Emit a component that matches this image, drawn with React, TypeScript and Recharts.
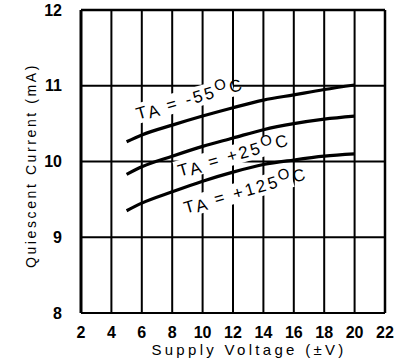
import React from 'react';
import { LineChart, Line, XAxis, YAxis, CartesianGrid, ReferenceLine, ReferenceDot, Label } from 'recharts';

const voltage = [5, 6, 8, 10, 12, 14, 16, 18, 20];
const currentMinus55 = [10.26, 10.35, 10.48, 10.6, 10.71, 10.81, 10.88, 10.95, 11.01];
const currentPlus25 = [9.83, 9.93, 10.07, 10.2, 10.31, 10.42, 10.5, 10.56, 10.6];
const currentPlus125 = [9.35, 9.45, 9.6, 9.74, 9.86, 9.96, 10.02, 10.07, 10.1];

const xTicks = [2, 4, 6, 8, 10, 12, 14, 16, 18, 20, 22];
const yTicks = [8, 9, 10, 11, 12];

const curveLabels = [
  { temp: '-55', x: 5.75, y: 10.55 },
  { temp: '+25', x: 8.5, y: 9.8 },
  { temp: '+125', x: 8.9, y: 9.31 },
];

const data = voltage.map((v, i) => ({
  v,
  m55: currentMinus55[i],
  p25: currentPlus25[i],
  p125: currentPlus125[i],
}));

const FONT = '"Liberation Sans", Arial, Helvetica, sans-serif';

const makeCurveLabel = (temp: string) => (props: any) => {
  const vb = props.viewBox || {};
  const x = (vb.x ?? 0) + (vb.width ?? 0) / 2;
  const y = (vb.y ?? 0) + (vb.height ?? 0) / 2;
  const len = (6 + temp.length) * 11.5;
  return (
    <g transform={`rotate(-16 ${x} ${y})`}>
      <rect x={x - 3} y={y - 16} width={len} height={20} fill="#fff" />
      <text
        x={x}
        y={y}
        fontFamily={FONT}
        fontSize={17}
        letterSpacing={2.4}
        fill="#000"
      >
        <tspan>T</tspan>
        <tspan dy={2}>A</tspan>
        <tspan dy={-2}>{` = ${temp}`}</tspan>
        <tspan dy={-6} fontSize={15}>O</tspan>
        <tspan dy={6}>C</tspan>
      </text>
    </g>
  );
};

export default function App() {
  return (
    <div style={{ position: 'absolute', left: 0, top: 0, background: '#fff' }}>
      <LineChart
        width={419}
        height={362}
        data={data}
        margin={{ top: 10, right: 34, bottom: 4, left: 0 }}
      >
        <CartesianGrid stroke="#000" strokeWidth={2} />
        <XAxis
          type="number"
          dataKey="v"
          domain={[2, 22]}
          ticks={xTicks}
          interval={0}
          height={45}
          tickLine={false}
          axisLine={{ stroke: '#000', strokeWidth: 2 }}
          tickMargin={8}
          tick={{ fill: '#000', fontSize: 16, fontWeight: 'bold', fontFamily: FONT }}
        >
          <Label
            content={(props: any) => {
              const vb = props.viewBox || {};
              return (
                <text
                  x={vb.x + vb.width / 2 + 16}
                  y={355}
                  textAnchor="middle"
                  fontFamily={FONT}
                  fontSize={15}
                  letterSpacing={3.3}
                  fill="#000"
                >
                  Supply Voltage (±V)
                </text>
              );
            }}
          />
        </XAxis>
        <YAxis
          type="number"
          domain={[8, 12]}
          ticks={yTicks}
          interval={0}
          width={81}
          tickLine={false}
          axisLine={{ stroke: '#000', strokeWidth: 3 }}
          tickMargin={13}
          tick={{ fill: '#000', fontSize: 16, fontWeight: 'bold', fontFamily: FONT }}
        >
          <Label
            content={(props: any) => {
              const vb = props.viewBox || {};
              const cx = 36;
              const cy = vb.y + vb.height / 2 + 4;
              return (
                <text
                  x={cx}
                  y={cy}
                  transform={`rotate(-90 ${cx} ${cy})`}
                  textAnchor="middle"
                  fontFamily={FONT}
                  fontSize={14}
                  letterSpacing={2.6}
                  fill="#000"
                >
                  Quiescent Current (mA)
                </text>
              );
            }}
          />
        </YAxis>
        <ReferenceLine x={22} stroke="#000" strokeWidth={2.5} />
        <ReferenceLine y={12} stroke="#000" strokeWidth={2.5} />
        {curveLabels.map((c) => (
          <ReferenceDot
            key={c.temp}
            x={c.x}
            y={c.y}
            r={1}
            fill="none"
            stroke="none"
            label={makeCurveLabel(c.temp)}
          />
        ))}
        <Line dataKey="m55" stroke="#000" strokeWidth={3.2} dot={false} type="monotone" isAnimationActive={false} />
        <Line dataKey="p25" stroke="#000" strokeWidth={3.2} dot={false} type="monotone" isAnimationActive={false} />
        <Line dataKey="p125" stroke="#000" strokeWidth={3.2} dot={false} type="monotone" isAnimationActive={false} />
      </LineChart>
    </div>
  );
}
